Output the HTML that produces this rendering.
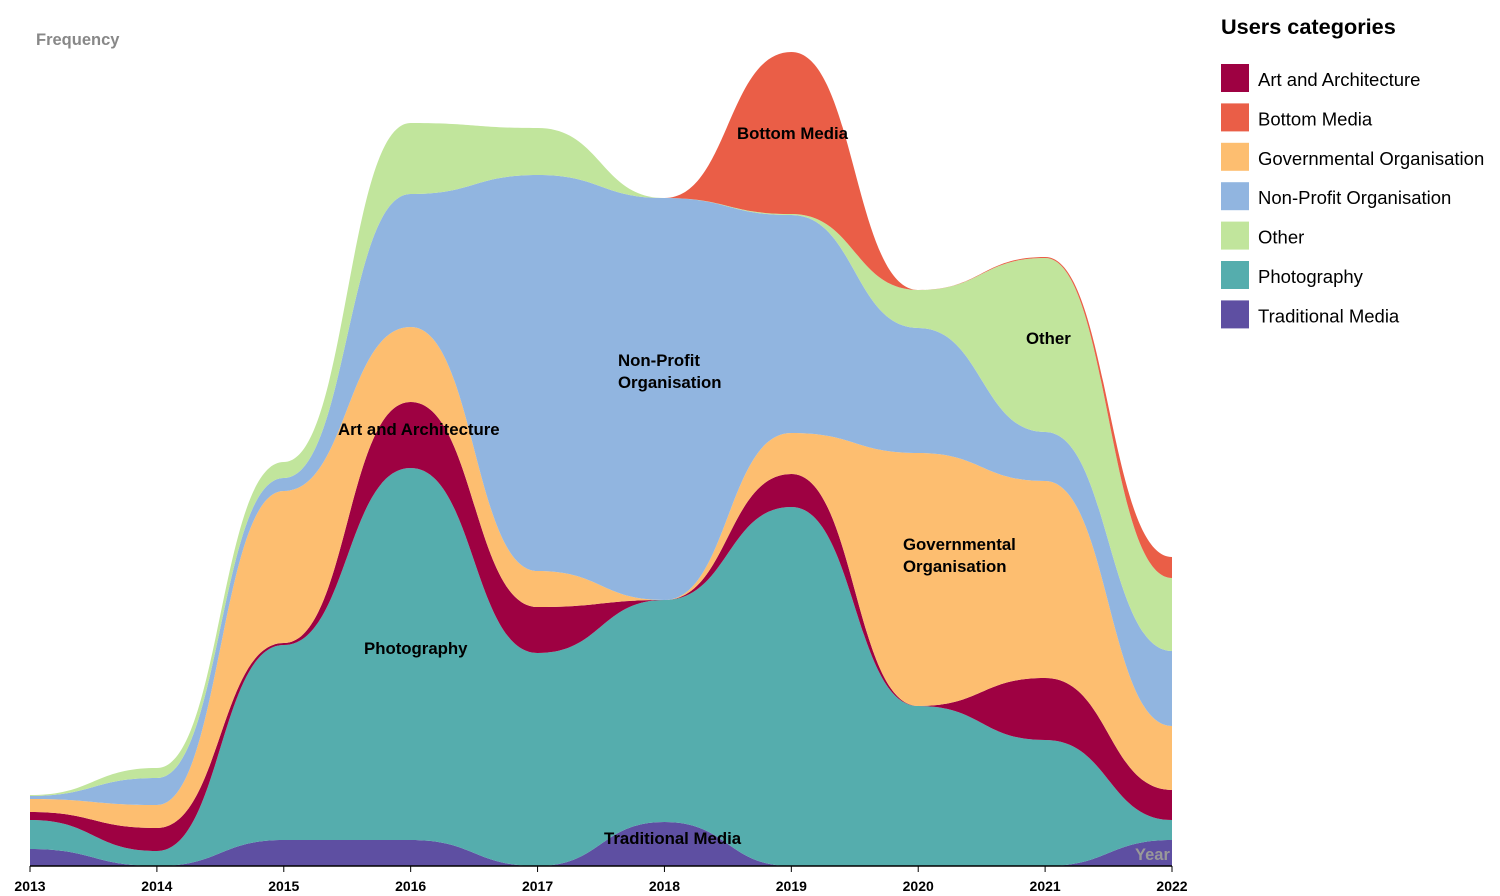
<!DOCTYPE html>
<html><head><meta charset="utf-8"><style>
body{margin:0;background:#fff;font-family:"Liberation Sans",Arial,sans-serif;}
svg{display:block}
</style></head><body>
<svg id="chart" width="1500" height="896">
<g id="areas"></g>
<g id="labels"></g>
<g id="axis"></g>
<text x="36" y="45" font-size="16.5" font-weight="bold" fill="#888">Frequency</text>
<text x="1135" y="860" font-size="16.5" font-weight="bold" fill="#999">Year</text>
<g id="legend"></g>
</svg>
<script>
const years = [2013,2014,2015,2016,2017,2018,2019,2020,2021,2022];
const categories = ["Traditional Media","Photography","Art and Architecture","Governmental Organisation","Non-Profit Organisation","Other","Bottom Media"];
const traditionalMedia = [17,0,26,26,0,44,0,0,0,26];
const photography = [29,15,195,372,213,222,359,160,126,20];
const artArchitecture = [8,23,2,66,46,0,33,0,62,30];
const governmental = [13,23,152,75,36,0,41,253,197,64];
const nonProfit = [3,27,13,133,396,402,218,125,49,75];
const other = [1,10,16,71,47,0,1,38,174,73];
const bottomMedia = [0,0,0,0,0,0,162,0,1,21];
const series = [traditionalMedia,photography,artArchitecture,governmental,nonProfit,other,bottomMedia];
const colors = ["#5e4fa2","#55adad","#9e0142","#fdbe70","#91b5e0","#c1e59c","#ea5e47"];
const legendOrder = [2,6,3,4,5,1,0];
const yMax = 813;

const NS="http://www.w3.org/2000/svg";
const X0=30,X1=1172,Y0=866,YT=53;
const xs=y=>X0+(y-years[0])*(X1-X0)/(years[years.length-1]-years[0]);
const ys=v=>Y0-v*(Y0-YT)/yMax;

function bump(pts){
  let d="";
  for(let i=0;i<pts.length-1;i++){
    const m=(pts[i][0]+pts[i+1][0])/2;
    d+=` C${m},${pts[i][1]} ${m},${pts[i+1][1]} ${pts[i+1][0]},${pts[i+1][1]}`;
  }
  return d;
}
const areas=document.getElementById('areas');
let base=years.map(()=>0);
series.forEach((s,k)=>{
  const top=base.map((b,i)=>b+s[i]);
  const up=years.map((y,i)=>[xs(y),ys(top[i])]);
  const lo=years.map((y,i)=>[xs(y),ys(base[i])]).reverse();
  const d=`M${up[0][0]},${up[0][1]}`+bump(up)+` L${lo[0][0]},${lo[0][1]}`+bump(lo)+"Z";
  const p=document.createElementNS(NS,'path');
  p.setAttribute('d',d);p.setAttribute('fill',colors[k]);
  
  
  areas.appendChild(p);
  base=top;
});
const ax=document.getElementById('axis');
ax.innerHTML=`<line x1="${X0}" x2="${X1}" y1="${Y0}" y2="${Y0}" stroke="#000" stroke-width="1.5"/>`;
years.forEach(y=>{
  const l=document.createElementNS(NS,'line');
  l.setAttribute('x1',xs(y));l.setAttribute('x2',xs(y));l.setAttribute('y1',Y0);l.setAttribute('y2',Y0+6);l.setAttribute('stroke','#000');
  
  
  ax.appendChild(l);
  const t=document.createElementNS(NS,'text');
  t.setAttribute('x',xs(y));t.setAttribute('y',891);t.setAttribute('text-anchor','middle');
  t.setAttribute('font-size','14');t.setAttribute('font-weight','bold');t.textContent=y;
  
  
  ax.appendChild(t);
});
const labels=[["Bottom Media",737,139],["Non-Profit",618,366],["Organisation",618,388],["Art and Architecture",338,435],["Governmental",903,550],["Organisation",903,572],["Other",1026,344],["Photography",364,654],["Traditional Media",604,844]];
const lg=document.getElementById('labels');
labels.forEach(l=>{
  const t=document.createElementNS(NS,'text');
  t.setAttribute('x',l[1]);t.setAttribute('y',l[2]);t.setAttribute('font-size','16.8');t.setAttribute('font-weight','bold');t.textContent=l[0];
  
  
  lg.appendChild(t);
});
const leg=document.getElementById('legend');
const tt=document.createElementNS(NS,'text');
tt.setAttribute('x',1221);tt.setAttribute('y',34);tt.setAttribute('font-size','21.7');tt.setAttribute('font-weight','bold');tt.textContent="Users categories";


leg.appendChild(tt);
legendOrder.forEach((k,i)=>{
  const y=64+i*39.4;
  const r=document.createElementNS(NS,'rect');
  r.setAttribute('x',1221);r.setAttribute('y',y);r.setAttribute('width',28);r.setAttribute('height',28);r.setAttribute('fill',colors[k]);
  
  
  leg.appendChild(r);
  const t=document.createElementNS(NS,'text');
  t.setAttribute('x',1258);t.setAttribute('y',y+22);t.setAttribute('font-size','18.5');t.textContent=categories[k];
  
  
  leg.appendChild(t);
});
</script>
</body></html>
